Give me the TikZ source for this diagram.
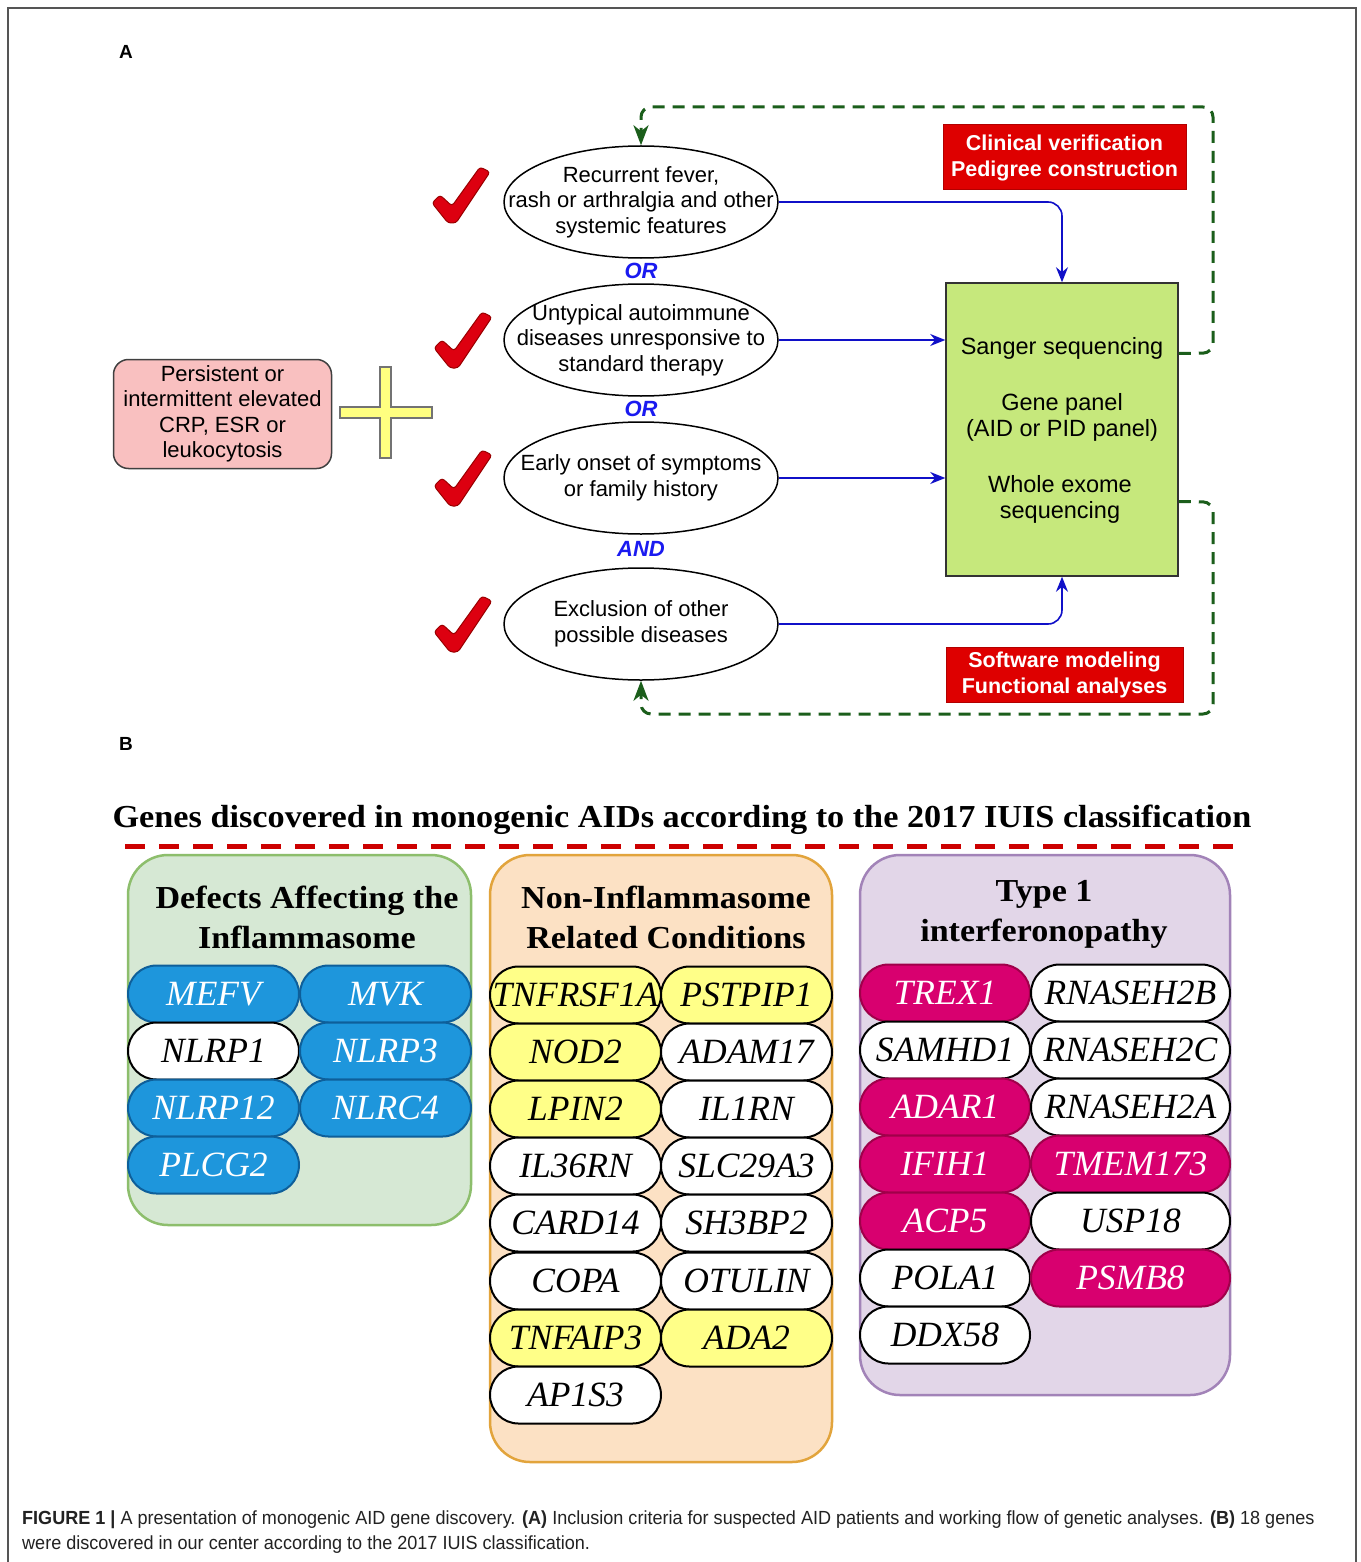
\documentclass[tikz,border=0pt]{standalone}
\usepackage{fontspec}
\setmainfont{Liberation Serif}
\newfontfamily\arial{Liberation Sans}
\usetikzlibrary{shapes.geometric,shapes.misc,arrows.meta,calc}
\definecolor{framegray}{HTML}{555555}
\definecolor{chkred}{HTML}{DD0010}
\definecolor{chkdark}{HTML}{9A0000}
\definecolor{orblue}{HTML}{1A1AF0}
\definecolor{arrblue}{HTML}{1010C8}
\definecolor{dgreen}{HTML}{1B5E1B}
\definecolor{gboxfill}{HTML}{C6E87C}
\definecolor{redfill}{HTML}{DE0000}
\definecolor{pinkfill}{HTML}{F9C0C0}
\definecolor{plusyellow}{HTML}{FFFF80}
\definecolor{dashred}{HTML}{CC0000}
\definecolor{pgfill}{HTML}{D6E8D4}
\definecolor{pgdraw}{HTML}{8DBE6C}
\definecolor{pofill}{HTML}{FCE1C4}
\definecolor{podraw}{HTML}{E2A43C}
\definecolor{ppfill}{HTML}{E2D6E8}
\definecolor{ppdraw}{HTML}{A283B8}
\definecolor{gblue}{HTML}{1E96DC}
\definecolor{gbluedraw}{HTML}{0E5F9A}
\definecolor{gyellow}{HTML}{FFFF88}
\definecolor{gmag}{HTML}{D8006F}
\definecolor{gmagdraw}{HTML}{A0004A}
\definecolor{captext}{HTML}{222222}
\tikzset{
  ell/.style={ellipse, draw=black, line width=1.5pt, minimum width=274pt, minimum height=112pt, inner sep=0pt},
  elltext/.style={align=center, font=\arial\fontsize{22}{25.5}\selectfont, inner sep=0pt},
  ortext/.style={text=orblue, font=\arial\bfseries\itshape\fontsize{22}{24}\selectfont},
  barrow/.style={draw=arrblue, line width=1.6pt, -{Stealth[length=15pt,width=12pt]}},
  garrow/.style={draw=dgreen, line width=3pt, dash pattern=on 12pt off 8pt, rounded corners=10pt, -{Stealth[length=20pt,width=15pt,inset=6pt]}},
  redbox/.style={fill=redfill, draw=red!70!black, line width=1pt, text=white, align=center, font=\arial\bfseries\fontsize{21.5}{26}\selectfont, inner sep=0pt},
  boxtext/.style={align=center, font=\arial\fontsize{22}{25.5}\selectfont, inner sep=0pt},
  gtext/.style={align=center, font=\arial\fontsize{23.5}{26}\selectfont, inner sep=0pt},
  panel/.style={rounded corners=40pt, line width=2.5pt, inner sep=0pt},
  ptitle/.style={align=center, font=\bfseries\fontsize{32}{40}\selectfont, inner sep=0pt},
  pill/.style={rounded rectangle, minimum width=171pt, minimum height=57pt, inner sep=0pt, line width=2pt, font=\itshape\fontsize{35.5}{35.5}\selectfont},
  pblue/.style={pill, fill=gblue, draw=gbluedraw, text=white},
  pwhite/.style={pill, fill=white, draw=black},
  pyellow/.style={pill, fill=gyellow, draw=black},
  pmag/.style={pill, fill=gmag, draw=gmagdraw, text=white},
  chk/.pic={\fill[chkred, draw=chkdark, line width=1pt, rounded corners=3pt] (-29,8) -- (-21,0) -- (-9,11) -- (19,-28) -- (29,-23) -- (-5,28) -- (-13,28) -- cycle;}
}
\begin{document}
\begin{tikzpicture}[x=1pt,y=-1pt]
\useasboundingbox (0,0) rectangle (1360,1562);
\fill[white] (0,0) rectangle (1360,1562);
\draw[framegray, line width=2pt] (8,1600) -- (8,8) -- (1356,8) -- (1356,1600);

% ---------- Part A ----------
\node[font=\arial\bfseries\fontsize{19}{19}\selectfont] (labA) at (126,52) {A};

\node[ell] (e1) at (641,202) {};
\node[ell] (e2) at (641,340) {};
\node[ell] (e3) at (641,478) {};
\node[ell] (e4) at (641,624) {};
\node[elltext] (t1) at (e1.center) {Recurrent fever,\\rash or arthralgia and other\\systemic features};
\node[elltext] (t2) at (e2.center) {Untypical autoimmune\\diseases unresponsive to\\standard therapy};
\node[elltext] (t3) at (e3.center) {Early onset of symptoms\\or family history};
\node[elltext] (t4) at (e4.center) {Exclusion of other\\possible diseases};

\node[ortext] (or1) at (641,271) {OR};
\node[ortext] (or2) at (641,409) {OR};
\node[ortext] (and1) at (641,549) {AND};

\pic at (461,195) {chk};
\pic at (463,340) {chk};
\pic at (463,478) {chk};
\pic at (463,624) {chk};

\node[draw=black!75, fill=pinkfill, line width=1.5pt, rounded corners=15pt, minimum width=218pt, minimum height=109pt, inner sep=0pt] (pink) at (222.5,414) {};
\node[boxtext] (pinkt) at (pink.center) {Persistent or\\intermittent elevated\\CRP, ESR or\\leukocytosis};

\filldraw[fill=plusyellow, draw=black!55, line width=1.2pt] (380,367) -- (391,367) -- (391,407) -- (432,407) -- (432,418) -- (391,418) -- (391,458) -- (380,458) -- (380,418) -- (340,418) -- (340,407) -- (380,407) -- cycle;

\node[draw=black!80, fill=gboxfill, line width=1.5pt, minimum width=232pt, minimum height=293pt, inner sep=0pt] (g) at (1062,429.5) {};
\node[gtext] (gt1) at (1062,348) {Sanger sequencing};
\node[gtext] (gt2) at (1062,417) {Gene panel\\(AID or PID panel)};
\node[gtext] (gt3) at (1060,499) {Whole exome\\sequencing};

\node[redbox, minimum width=243pt, minimum height=65pt] (rb1) at (1064.5,157.5) {Clinical verification\\Pedigree construction};
\node[redbox, minimum width=237pt, minimum height=55pt] (rb2) at (1064.5,674.5) {Software modeling\\Functional analyses};

\draw[barrow, rounded corners=14pt] (e1.east) -| (g.north);
\draw[barrow] (e2.east) -- (g.west |- e2.east);
\draw[barrow] (e3.east) -- (g.west |- e3.east);
\draw[barrow, rounded corners=14pt] (e4.east) -| (g.south);

\coordinate (topturn) at (1213,107);
\coordinate (botturn) at (1213,714);
\draw[garrow] ([yshift=76pt]g.east) -- (1213,353) -- (topturn) -- (topturn -| e1.north) -- (e1.north);
\draw[garrow] ([yshift=-72pt]g.east) -- (1213,502) -- (botturn) -- (botturn -| e4.south) -- (e4.south);

% ---------- Part B ----------
\node[font=\arial\bfseries\fontsize{19}{19}\selectfont] (labB) at (126,744) {B};

\node[font=\bfseries\fontsize{32}{32}\selectfont, inner sep=0pt] (title) at (682,820) {\scalebox{1.07}[1]{Genes discovered in monogenic AIDs according to the 2017 IUIS classification}};
\coordinate (dl1) at (125,846);
\coordinate (dl2) at (1240,846);
\draw[dashred, line width=5pt, dash pattern=on 20pt off 14pt] (dl1) -- (dl2);

\node[panel, fill=pgfill, draw=pgdraw, minimum width=343pt, minimum height=370pt] (pg) at (299.5,1040) {};
\node[panel, fill=pofill, draw=podraw, minimum width=342pt, minimum height=607pt] (po) at (661,1158.5) {};
\node[panel, fill=ppfill, draw=ppdraw, minimum width=370pt, minimum height=540pt] (pp) at (1045,1125) {};

\node[ptitle] (pgt) at (307,917) {\scalebox{1.065}[1]{Defects Affecting the}\\\scalebox{1.065}[1]{Inflammasome}};
\node[ptitle] (pot) at (666,917) {\scalebox{1.065}[1]{Non-Inflammasome}\\\scalebox{1.065}[1]{Related Conditions}};
\node[ptitle] (ppt) at (1044,914) {\scalebox{1.065}[1]{Type 1}\\\scalebox{1.065}[1]{interferonopathy}};

% green panel genes
\node[pblue] (g11) at (213.5,994) {MEFV};
\node[pblue] (g12) at (385.5,994) {MVK};
\node[pwhite] (g21) at (213.5,1051) {NLRP1};
\node[pblue] (g22) at (385.5,1051) {NLRP3};
\node[pblue] (g31) at (213.5,1108) {NLRP12};
\node[pblue] (g32) at (385.5,1108) {NLRC4};
\node[pblue] (g41) at (213.5,1165) {PLCG2};

% orange panel genes
\node[pyellow] (o11) at (575.5,995) {TNFRSF1A};
\node[pyellow] (o12) at (746.5,995) {PSTPIP1};
\node[pyellow] (o21) at (575.5,1052) {NOD2};
\node[pwhite] (o22) at (746.5,1052) {ADAM17};
\node[pyellow] (o31) at (575.5,1109) {LPIN2};
\node[pwhite] (o32) at (746.5,1109) {IL1RN};
\node[pwhite] (o41) at (575.5,1166) {IL36RN};
\node[pwhite] (o42) at (746.5,1166) {SLC29A3};
\node[pwhite] (o51) at (575.5,1223) {CARD14};
\node[pwhite] (o52) at (746.5,1223) {SH3BP2};
\node[pwhite] (o61) at (575.5,1281) {COPA};
\node[pwhite] (o62) at (746.5,1281) {OTULIN};
\node[pyellow] (o71) at (575.5,1338) {TNFAIP3};
\node[pyellow] (o72) at (746.5,1338) {ADA2};
\node[pwhite] (o81) at (575.5,1395) {AP1S3};

% purple panel genes
\node[pmag, minimum width=170pt] (p11) at (945,993) {TREX1};
\node[pwhite, minimum width=199pt] (p12) at (1130.5,993) {RNASEH2B};
\node[pwhite, minimum width=170pt] (p21) at (945,1050) {SAMHD1};
\node[pwhite, minimum width=199pt] (p22) at (1130.5,1050) {RNASEH2C};
\node[pmag, minimum width=170pt] (p31) at (945,1107) {ADAR1};
\node[pwhite, minimum width=199pt] (p32) at (1130.5,1107) {RNASEH2A};
\node[pmag, minimum width=170pt] (p41) at (945,1164) {IFIH1};
\node[pmag, minimum width=199pt] (p42) at (1130.5,1164) {TMEM173};
\node[pmag, minimum width=170pt] (p51) at (945,1221) {ACP5};
\node[pwhite, minimum width=199pt] (p52) at (1130.5,1221) {USP18};
\node[pwhite, minimum width=170pt] (p61) at (945,1278) {POLA1};
\node[pmag, minimum width=199pt] (p62) at (1130.5,1278) {PSMB8};
\node[pwhite, minimum width=170pt] (p71) at (945,1335) {DDX58};

% caption
\node[anchor=west, inner sep=0pt, text=captext, font=\arial\fontsize{19}{20}\selectfont] (cap1) at (22,1520) {\scalebox{0.95}[1]{\textbf{FIGURE 1 |} A presentation of monogenic AID gene discovery. \textbf{(A)} Inclusion criteria for suspected AID patients and working flow of genetic analyses. \textbf{(B)} 18 genes}};
\node[anchor=west, inner sep=0pt, text=captext, font=\arial\fontsize{19}{20}\selectfont] (cap2) at (22,1545) {\scalebox{0.95}[1]{were discovered in our center according to the 2017 IUIS classification.}};
\end{tikzpicture}
\end{document}
